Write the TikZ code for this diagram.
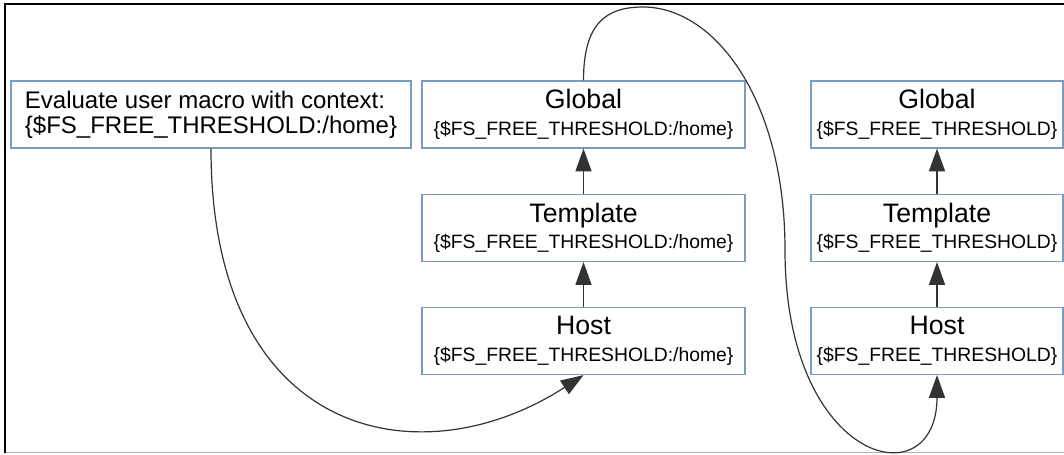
\documentclass[tikz,border=0pt]{standalone}
\usepackage{fontspec}
\setmainfont{Liberation Sans}
\usetikzlibrary{arrows.meta}
\definecolor{boxline}{HTML}{7A9CC2}
\definecolor{wire}{HTML}{333333}
\newcommand{\lvl}[2]{{\fontsize{20}{20}\selectfont #1}\\{#2}}

\begin{document}
\begin{tikzpicture}[x=0.75pt, y=-0.75pt,
  box/.style={draw=boxline, line width=0.9pt, inner sep=0pt, minimum height=50.25pt,
    align=center, font=\fontsize{14.5}{20}\selectfont},
  flow/.style={draw=wire, line width=0.9pt, -{Triangle[length=17pt,width=12pt]}}]

\useasboundingbox (0,0) rectangle (1064,454);
% frame
\draw[line width=2.2pt] (5,453) -- (5,4) -- (1064,4);
\draw[black!30, line width=1pt] (6,452.5) -- (1064,452.5);

% --- the call ---
\node[box, minimum width=300pt, align=left, font=\fontsize{18}{18.75}\selectfont] (ask)
  at (211,114.5) {Evaluate user macro with context:\\\{\$FS\_FREE\_THRESHOLD:/home\}};

% --- levels, context /home ---
\node[box, minimum width=242.25pt] (glob1) at (583.5,114.5) {\lvl{Global}{\{\$FS\_FREE\_THRESHOLD:/home\}}};
\node[box, minimum width=242.25pt] (tmpl1) at (583.5,228) {\lvl{Template}{\{\$FS\_FREE\_THRESHOLD:/home\}}};
\node[box, minimum width=242.25pt] (host1) at (583.5,341) {\lvl{Host}{\{\$FS\_FREE\_THRESHOLD:/home\}}};

% --- levels, no context ---
\node[box, minimum width=189pt] (glob2) at (937,114.5) {\lvl{Global}{\{\$FS\_FREE\_THRESHOLD\}}};
\node[box, minimum width=189pt] (tmpl2) at (937,228) {\lvl{Template}{\{\$FS\_FREE\_THRESHOLD\}}};
\node[box, minimum width=189pt] (host2) at (937,341) {\lvl{Host}{\{\$FS\_FREE\_THRESHOLD\}}};

\draw[flow] (tmpl1) -- (glob1);
\draw[flow] (host1) -- (tmpl1);
\draw[flow] (tmpl2) -- (glob2);
\draw[flow] (host2) -- (tmpl2);

% lookups
\coordinate (peak) at (643,7);
\coordinate (dip) at (785,250);
\draw[flow] (ask.south) .. controls +(0,292) and +(-162,105) .. (host1.south);
\draw[flow] (glob1.north) .. controls +(0,-56) and +(-38,0) .. (peak)
  .. controls +(72,0) and +(0,-150) .. (dip)
  .. controls +(0,215) and +(0,125) .. (host2.south);

\end{tikzpicture}
\end{document}
